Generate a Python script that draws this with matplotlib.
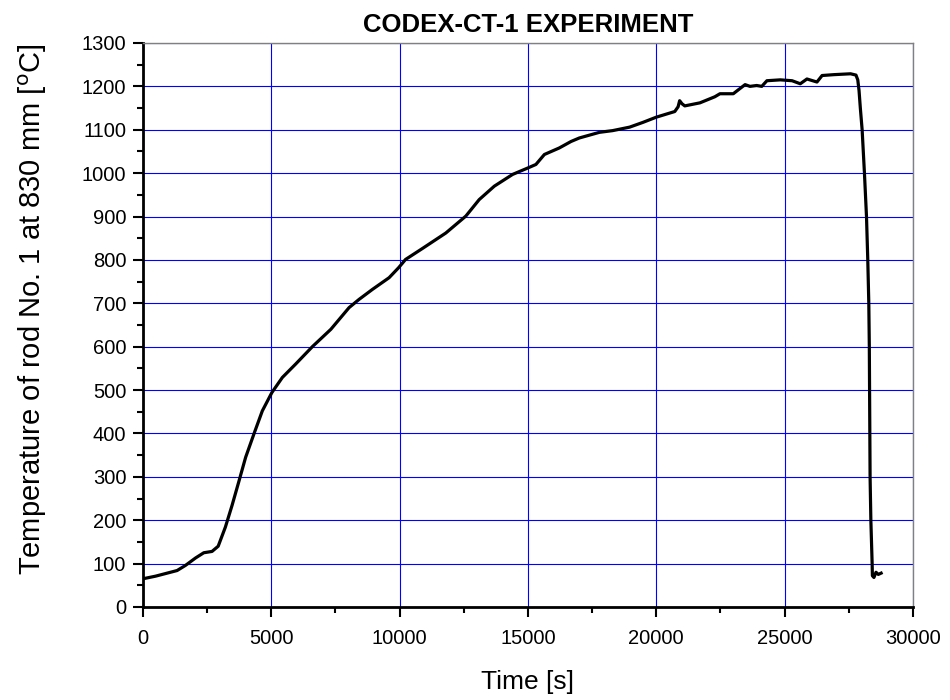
#!/usr/bin/env python3
import matplotlib
matplotlib.use("Agg")
import matplotlib.pyplot as plt
from matplotlib.ticker import MultipleLocator
import numpy as np


# rod No. 1 thermocouple at 830 mm, CODEX-CT-1
time_s = [0, 490, 1330, 1660, 2050, 2370, 2690, 2930, 3210, 3470,
          3730, 4000, 4330, 4650, 5020, 5430, 5950, 6600, 7320, 8030,
          8420, 8940, 9590, 9960, 10230, 10880, 11800, 12580, 13100, 13690,
          14400, 15000, 15310, 15640, 16220, 16680, 17000, 17780, 18300, 18960,
          19480, 20000, 20720, 20850, 20910, 21000, 21110, 21700, 22280, 22480,
          23000, 23260, 23460, 23650, 23910, 24110, 24310, 24830, 25290, 25610,
          25870, 26260, 26460, 26920, 27570, 27780, 27850, 27900, 27950, 28020,
          28110, 28190, 28240, 28280, 28300, 28310, 28320, 28330, 28360, 28410,
          28420, 28480, 28560, 28650, 28760]
temp_c = [65, 71, 84, 96, 113, 125, 128, 140, 184, 234,
          288, 345, 400, 452, 494, 529, 560, 600, 640, 690,
          709, 732, 759, 782, 801, 826, 862, 901, 939, 970,
          997, 1012, 1020, 1043, 1058, 1073, 1081, 1094, 1098, 1106,
          1117, 1129, 1142, 1153, 1167, 1160, 1155, 1162, 1176, 1183,
          1183, 1195, 1204, 1200, 1202, 1200, 1213, 1215, 1213, 1206,
          1217, 1210, 1225, 1227, 1229, 1226, 1215, 1190, 1150, 1100,
          1000, 900, 800, 700, 600, 500, 400, 300, 200, 100,
          72, 68, 80, 75, 78]

x_ticks = np.arange(0, 30001, 5000)
y_ticks = np.arange(0, 1301, 100)

plt.rcParams['font.family'] = ['Liberation Sans', 'DejaVu Sans']


def main():
	fig = plt.figure(figsize=(9.5, 7), dpi=100)
	ax = fig.add_axes([0.1505, 0.1329, 0.8105, 0.8057])

	ax.plot(time_s, temp_c, color="black", linewidth=2.3, zorder=3)

	ax.set_xlim(0, 30000)
	ax.set_ylim(0, 1300)
	ax.set_xticks(x_ticks)
	ax.set_yticks(y_ticks)
	ax.xaxis.set_minor_locator(MultipleLocator(2500))
	ax.yaxis.set_minor_locator(MultipleLocator(50))
	ax.grid(True, which="major", color="#0000ff", linewidth=0.8, zorder=1)
	ax.set_axisbelow(True)

	ax.tick_params(which="major", direction="out", length=7, width=1.5,
	               labelsize=14.5, top=False, right=False)
	ax.tick_params(axis="x", which="major", pad=9)
	ax.tick_params(axis="y", which="major", pad=5)
	ax.tick_params(which="minor", direction="out", length=4, width=1.5,
	               top=False, right=False)
	for side in ["left", "bottom"]:
		ax.spines[side].set_linewidth(2.0)
		ax.spines[side].set_color("black")
	for side in ["top", "right"]:
		ax.spines[side].set_linewidth(1.0)
		ax.spines[side].set_color("#808080")

	ax.set_xlabel("Time [s]", fontsize=19, labelpad=16)
	ax.set_ylabel("Temperature of rod No. 1 at 830 mm [$^{\\rm o}$C]", fontsize=21)
	ax.yaxis.set_label_coords(-0.122, 0.527)
	ax.set_title("CODEX-CT-1 EXPERIMENT", fontsize=18.5, fontweight="bold", pad=8)

	fig.savefig("out.png", dpi=100)
	plt.close(fig="all")


if __name__ == '__main__':
	main()
